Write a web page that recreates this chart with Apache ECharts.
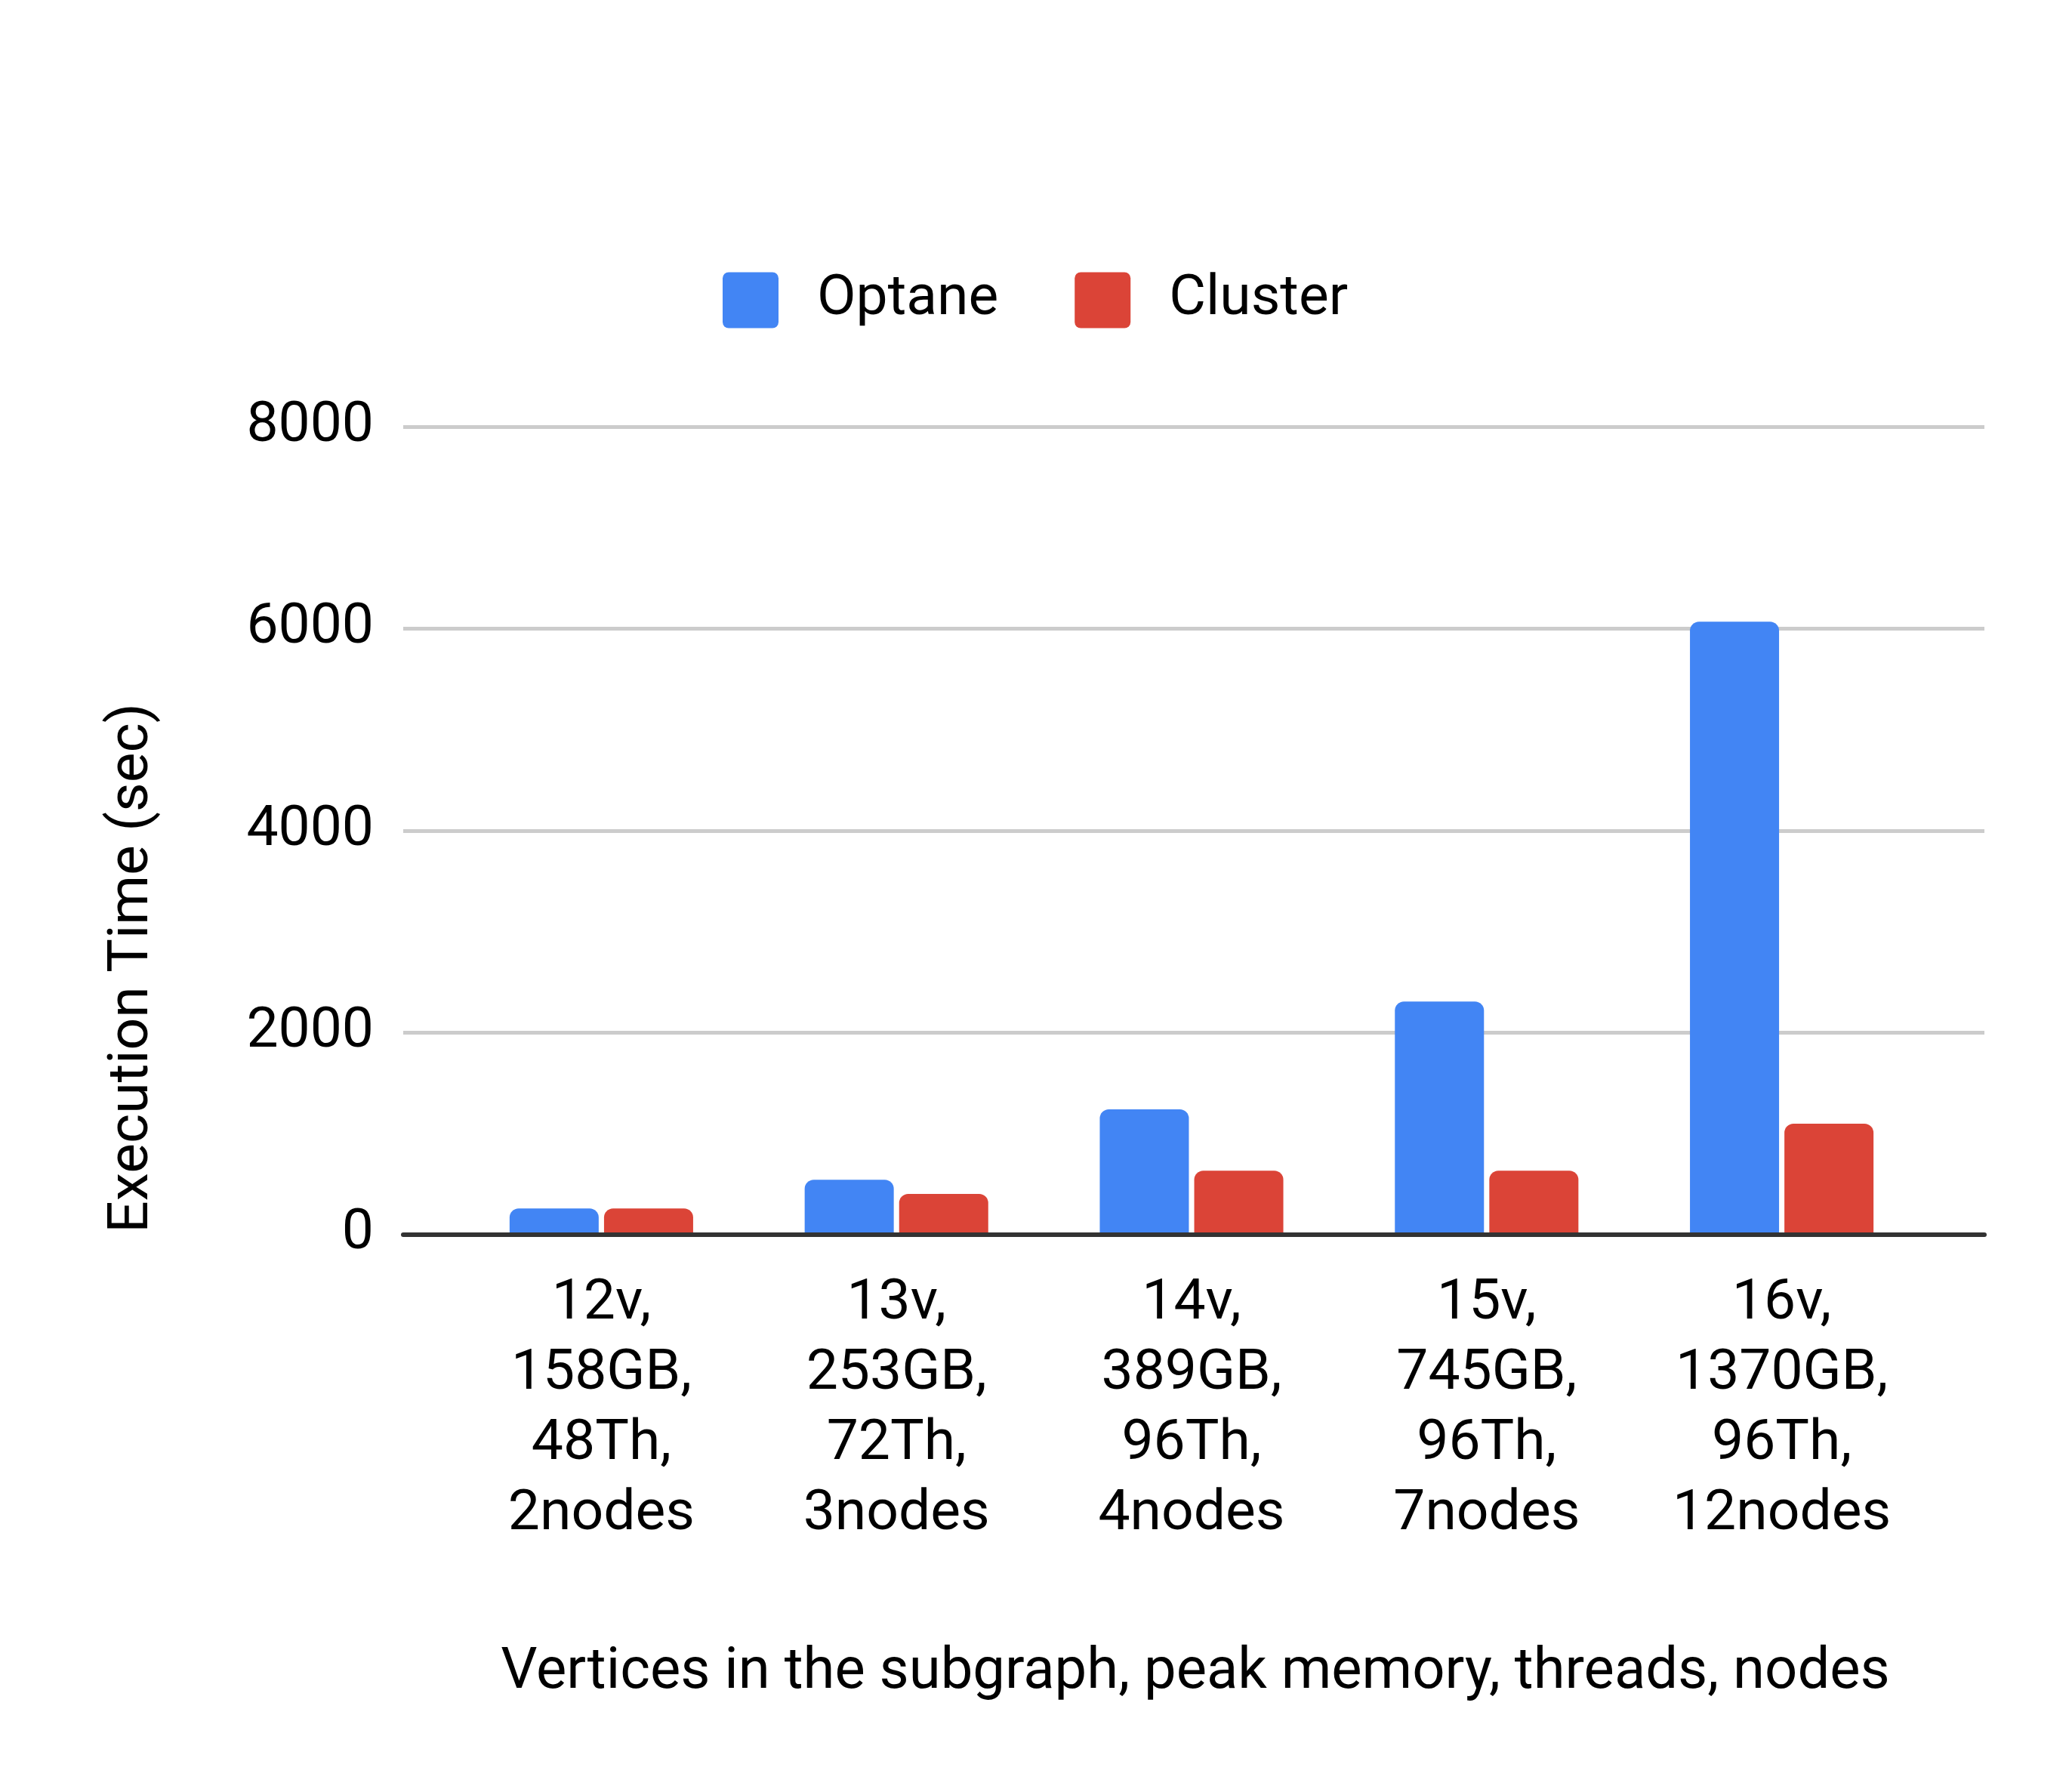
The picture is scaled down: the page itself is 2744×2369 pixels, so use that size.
<!DOCTYPE html>
<html>
<head>
<meta charset="utf-8">
<script src="https://cdn.jsdelivr.net/npm/echarts@6/dist/echarts.min.js"></script>
<style>
  html, body { margin: 0; padding: 0; background: #fff; }
  #chart { width: 2744px; height: 2369px; }
</style>
</head>
<body>
<div id="chart"></div>
<script>
const categories = [
  '12v,\n158GB,\n48Th,\n2nodes',
  '13v,\n253GB,\n72Th,\n3nodes',
  '14v,\n389GB,\n96Th,\n4nodes',
  '15v,\n745GB,\n96Th,\n7nodes',
  '16v,\n1370GB,\n96Th,\n12nodes',
]
const optane = [255, 539, 1237, 2305, 6070]
const cluster = [255, 399, 630, 630, 1095]
const seriesNames = ['Optane', 'Cluster']
const yTicks = { min: 0, max: 8000, interval: 2000 }

const font = 'Roboto'
const textColor = '#000'
const squareIcon =
  'path://M8,0H66A8,8,0,0,1,74,8V66A8,8,0,0,1,66,74H8A8,8,0,0,1,0,66V8A8,8,0,0,1,8,0Z'

const myChart = echarts.init(document.getElementById('chart'), null, {
  renderer: 'canvas',
})

const option = {
  backgroundColor: '#fff',
  animation: false,
  color: ['#4285F4', '#DB4437'],
  textStyle: { fontFamily: font },
  legend: {
    left: 952,
    top: 355,
    itemWidth: 74,
    itemHeight: 74,
    itemGap: 101,
    icon: squareIcon,
    data: seriesNames,
    textStyle: {
      fontFamily: font,
      fontSize: 75,
      color: textColor,
      padding: [0, 0, 0, 46],
    },
  },
  grid: [
    // full width: gridlines, y labels, baseline
    { left: 534, right: 116, top: 565.5, bottom: 734.7 },
    // bars sit in a narrower band
    { left: 601, right: 189, top: 565.5, bottom: 734.7 },
  ],
  xAxis: [
    {
      gridIndex: 0,
      type: 'value',
      min: 0,
      max: 1,
      z: 3,
      axisLine: { show: true, lineStyle: { color: '#333', width: 6 } },
      axisTick: { show: false },
      axisLabel: { show: false },
      splitLine: { show: false },
    },
    {
      gridIndex: 1,
      type: 'category',
      data: categories,
      axisLine: { show: false },
      axisTick: { show: false },
      axisLabel: {
        interval: 0,
        margin: 46,
        fontFamily: font,
        fontSize: 75,
        lineHeight: 93,
        color: textColor,
        align: 'center',
      },
    },
  ],
  yAxis: [
    {
      gridIndex: 0,
      type: 'value',
      min: yTicks.min,
      max: yTicks.max,
      interval: yTicks.interval,
      axisLine: { show: false },
      axisTick: { show: false },
      axisLabel: {
        margin: 39,
        fontFamily: font,
        fontSize: 75,
        color: textColor,
        padding: [6, 0, 0, 0],
        formatter: (v) => String(v),
      },
      splitLine: { lineStyle: { color: '#cccccc', width: 5 } },
    },
    {
      gridIndex: 1,
      type: 'value',
      min: yTicks.min,
      max: yTicks.max,
      interval: yTicks.interval,
      show: false,
    },
  ],
  series: [
    {
      name: seriesNames[0],
      type: 'bar',
      xAxisIndex: 1,
      yAxisIndex: 1,
      barWidth: 118,
      barGap: '6%',
      itemStyle: { borderRadius: [12, 12, 0, 0] },
      data: optane,
    },
    {
      name: seriesNames[1],
      type: 'bar',
      xAxisIndex: 1,
      yAxisIndex: 1,
      barWidth: 118,
      barGap: '6%',
      itemStyle: { borderRadius: [12, 12, 0, 0] },
      data: cluster,
    },
  ],
  graphic: [
    {
      type: 'text',
      x: 176,
      y: 1282,
      rotation: Math.PI / 2,
      style: {
        text: 'Execution Time (sec)',
        fontFamily: font,
        fontSize: 75,
        fill: textColor,
        align: 'center',
        verticalAlign: 'middle',
      },
    },
    {
      type: 'text',
      x: 1583,
      y: 2216,
      style: {
        text: 'Vertices in the subgraph, peak memory, threads, nodes',
        fontFamily: font,
        fontSize: 76,
        fill: textColor,
        align: 'center',
        verticalAlign: 'middle',
      },
    },
  ],
}

option && myChart.setOption(option)
</script>
</body>
</html>
